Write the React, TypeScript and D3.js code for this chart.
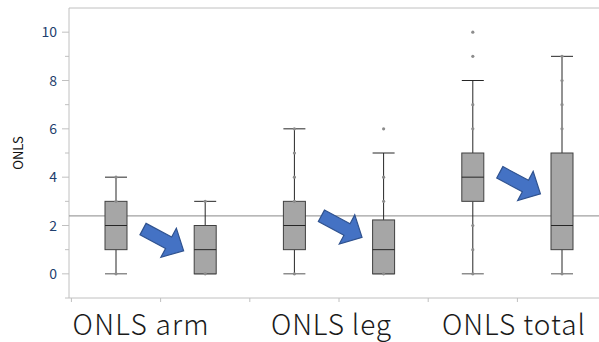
import React from "react";
import * as d3 from "d3";

// six boxes: pre / post for each ONLS part
const boxKeys = ["arm1", "arm2", "leg1", "leg2", "total1", "total2"];
const groupLabels = ["ONLS arm", "ONLS leg", "ONLS total"];

// [min whisker, q1, median, q3, max whisker]
const boxStats: number[][] = [
  [0, 1, 2, 3, 4],
  [0, 0, 1, 2, 3],
  [0, 1, 2, 3, 6],
  [0, 0, 1, 2.23, 5],
  [0, 3, 4, 5, 8],
  [0, 1, 2, 5, 9],
];

// individual points shown on each box (integer scores)
const boxPoints: number[][] = [
  [0, 3, 4],
  [0, 3],
  [0, 3, 4, 5, 6],
  [0, 3, 4, 6],
  [0, 1, 2, 6, 7, 9, 10],
  [0, 6, 7, 8, 9],
];

const yTicks = [0, 2, 4, 6, 8, 10];
const yMinorTicks = [-1, 1, 3, 5, 7, 9];
const refValue = 2.4;

// arrow starts (value on y) for each group
const arrowStart = [1.85, 2.4, 4.2];

const W = 599;
const H = 342;
const left = 69;
const top = 8;
const bottom = 298;

const App: React.FC = () => {
  const y = d3.scaleLinear().domain([-1, 11]).range([bottom, top]);
  const x = d3.scaleBand().domain(boxKeys).range([71.4, 606.6]).padding(0);
  const bw = x.bandwidth();
  const boxW = 22;
  const cx = (k: string) => (x(k) as number) + bw / 2;

  const arrowPath = (sx: number, sy: number) => {
    // block arrow along +x, then rotated
    const len = 46, shaft = 13, head = 33, headLen = 17;
    const pts = [
      [0, -shaft / 2],
      [len - headLen, -shaft / 2],
      [len - headLen, -head / 2],
      [len, 0],
      [len - headLen, head / 2],
      [len - headLen, shaft / 2],
      [0, shaft / 2],
    ];
    return { d: "M" + pts.map((p) => p.join(",")).join("L") + "Z", t: `translate(${sx},${sy}) rotate(28)` };
  };

  const labelOffset = [-20, -8, -4];
  const labelWidth = [136, 120, 143];

  return (
    <div style={{ position: "absolute", left: 0, top: 0 }}>
      <svg width={W} height={H} style={{ display: "block", background: "#fff" }}>
        {/* frame lines */}
        <line x1={left} x2={W} y1={top} y2={top} stroke="#c0c0c0" />
        <line x1={left} x2={left} y1={top} y2={bottom} stroke="#c0c0c0" />
        <line x1={left} x2={W} y1={bottom} y2={bottom} stroke="#c0c0c0" />

        {/* y ticks */}
        {yTicks.map((t) => (
          <g key={t}>
            <line x1={62} x2={left} y1={y(t)} y2={y(t)} stroke="#c0c0c0" />
            <text
              x={57}
              y={y(t)}
              dy="0.36em"
              textAnchor="end"
              fontSize={14}
              fontFamily="'Noto Sans CJK JP', sans-serif"
              fill="#1f3f6e"
            >
              {t}
            </text>
          </g>
        ))}
        {yMinorTicks.map((t) => (
          <line key={t} x1={65} x2={left} y1={y(t)} y2={y(t)} stroke="#c0c0c0" />
        ))}

        {/* x ticks at band edges */}
        {boxKeys.map((k) => (
          <line key={k} x1={x(k) as number} x2={x(k) as number} y1={bottom} y2={bottom + 4} stroke="#c0c0c0" />
        ))}

        <text
          transform={`translate(23,${(top + bottom) / 2}) rotate(-90)`}
          textAnchor="middle"
          fontSize={13}
          fontFamily="'Noto Sans CJK JP', sans-serif"
          fill="#111"
        >
          ONLS
        </text>

        {/* reference line */}
        <line x1={left} x2={W} y1={y(refValue)} y2={y(refValue)} stroke="#a0a0a0" strokeWidth={1.2} />

        {/* boxes */}
        {boxKeys.map((k, i) => {
          const [mn, q1, md, q3, mx] = boxStats[i];
          const c = cx(k);
          return (
            <g key={k}>
              <line x1={c} x2={c} y1={y(mx)} y2={y(q3)} stroke="#262626" />
              <line x1={c} x2={c} y1={y(q1)} y2={y(mn)} stroke="#262626" />
              <line x1={c - boxW / 2} x2={c + boxW / 2} y1={y(mx)} y2={y(mx)} stroke="#262626" />
              <line x1={c - boxW / 2} x2={c + boxW / 2} y1={y(mn)} y2={y(mn)} stroke="#555" />
              <rect
                x={c - boxW / 2}
                y={y(q3)}
                width={boxW}
                height={y(q1) - y(q3)}
                fill="#a6a6a6"
                stroke="#404040"
                strokeWidth={1}
              />
              <line x1={c - boxW / 2} x2={c + boxW / 2} y1={y(md)} y2={y(md)} stroke="#262626" />
              {boxPoints[i].map((p) => (
                <circle key={p} cx={c} cy={y(p)} r={1.6} fill="#8c8c8c" />
              ))}
            </g>
          );
        })}

        {/* arrows */}
        {groupLabels.map((g, i) => {
          const c = cx(boxKeys[i * 2]);
          const a = arrowPath(c + 27, y(arrowStart[i]));
          return (
            <path key={g} d={a.d} transform={a.t} fill="#4472c4" stroke="#2f528f" strokeWidth={1.2} strokeLinejoin="miter" />
          );
        })}

        {/* group labels */}
        {groupLabels.map((g, i) => {
          const mid = (cx(boxKeys[i * 2]) + cx(boxKeys[i * 2 + 1])) / 2 + labelOffset[i];
          return (
            <text
              key={g}
              x={mid}
              y={335}
              textAnchor="middle"
              fontSize={28}
              fontWeight={300}
              textLength={labelWidth[i]}
              lengthAdjust="spacing"
              fontFamily="'Noto Sans CJK JP', sans-serif"
              fill="#1a1a1a"
            >
              {g}
            </text>
          );
        })}
      </svg>
    </div>
  );
};

export default App;
